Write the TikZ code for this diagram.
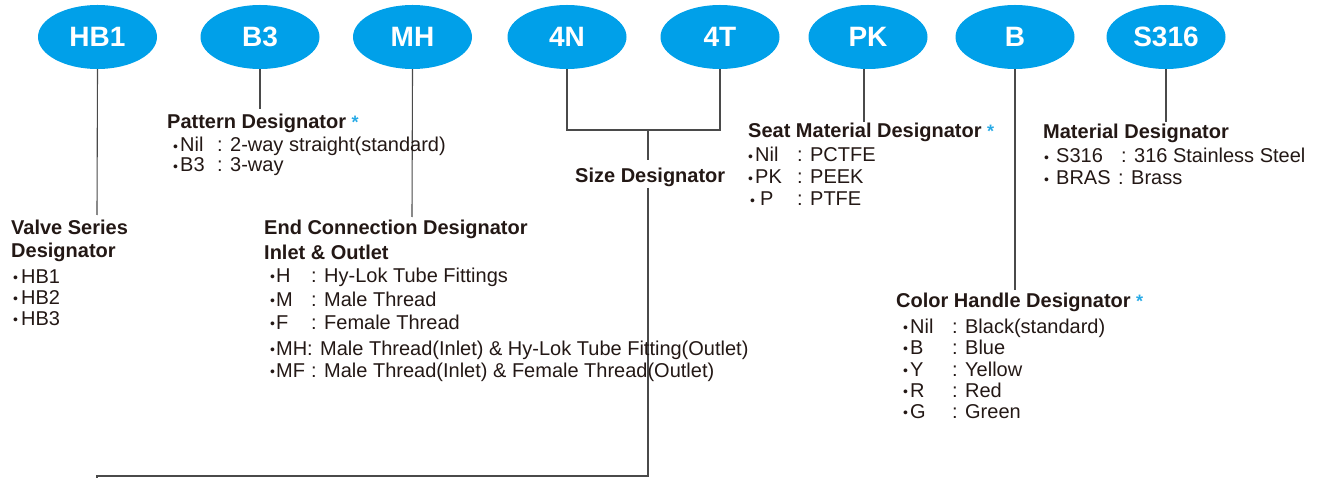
\documentclass[tikz,border=0pt]{standalone}
\usepackage{fontspec}
\setmainfont{Liberation Sans}
\usetikzlibrary{shapes.geometric}
\definecolor{ellblue}{RGB}{0,160,233}
\definecolor{astblue}{RGB}{40,170,230}
\definecolor{txt}{HTML}{231815}
\definecolor{ln}{HTML}{4A4A4A}
\newcommand\blt[1]{\makebox[#1][l]{\raisebox{0.03em}{\scalebox{0.7}{•}}}}
\newcommand\ky[2]{\makebox[#1][l]{#2}}
\newcommand\myast{\textcolor{astblue}{\fontsize{18}{18}\selectfont\bfseries *}}
\begin{document}
\begin{tikzpicture}[x=1pt,y=-1pt,
  oval/.style={ellipse, fill=ellblue, minimum width=119pt, minimum height=64pt, inner sep=0pt, text=white, font=\fontsize{28}{28}\selectfont\bfseries},
  head/.style={anchor=base west, inner sep=0pt, text=txt, font=\fontsize{20}{23}\selectfont\bfseries},
  itm/.style={anchor=base west, inner sep=0pt, text=txt, font=\fontsize{20}{21}\selectfont},
  conn/.style={draw=ln, line width=1.1pt}]
\useasboundingbox (0,0) rectangle (1321,478);

% ovals
\node[oval] (hb1) at (97.5,37) {HB1};
\node[oval] (b3) at (260,37) {B3};
\node[oval] (mh) at (412.5,37) {MH};
\node[oval] (n4) at (567,37) {4N};
\node[oval] (t4) at (720,37) {4T};
\node[oval] (pk) at (868,37) {PK};
\node[oval] (bb) at (1015,37) {B};
\node[oval] (s316) at (1166,37) {S316};

% connector end points
\coordinate (hb1e) at (97,215);
\coordinate (b3e) at (260,109);
\coordinate (mhe) at (412,217);
\coordinate (join) at (648,130);
\coordinate (sizet) at (648,160);
\coordinate (sizeb) at (648,188);
\coordinate (botr) at (648,476);
\coordinate (botl) at (97,476);
\coordinate (bote) at (97,479);
\coordinate (pks) at (864,69);
\coordinate (pke) at (864,122);
\coordinate (bbe) at (1015,290);
\coordinate (s316e) at (1166,122);

\draw[conn] (hb1.south) -- (hb1e);
\draw[conn] (b3.south) -- (b3e);
\draw[conn] (mh.south) -- (mhe);
\draw[conn] (n4.south) |- (join) -| (t4.south);
\draw[conn] (join) -- (sizet);
\draw[conn] (sizeb) -- (botr) -- (botl) -- (bote);
\draw[conn] (pks) -- (pke);
\draw[conn] (bb.south) -- (bbe);
\draw[conn] (s316.south) -- (s316e);

% Valve series
\node[head] (vs1) at (11,235) {Valve Series};
\node[head] (vs2) at (11,258) {Designator};
\node[itm] (vsa) at (13,283) {\blt{8pt}HB1};
\node[itm] (vsb) at (13,304) {\blt{8pt}HB2};
\node[itm] (vsc) at (13,325) {\blt{8pt}HB3};

% Pattern
\node[head] (pd) at (167,129) {Pattern Designator \myast};
\node[itm] (pda) at (173,152) {\blt{7pt}\ky{37pt}{Nil}: 2-way straight(standard)};
\node[itm] (pdb) at (173,172) {\blt{7pt}\ky{37pt}{B3}: 3-way};

% End connection
\node[head] (ec1) at (264,235) {End Connection Designator};
\node[head] (ec2) at (264,259) {Inlet \& Outlet};
\node[itm] (eca) at (270,282) {\blt{6pt}\ky{35pt}{H}: Hy-Lok Tube Fittings};
\node[itm] (ecb) at (270,306) {\blt{6pt}\ky{35pt}{M}: Male Thread};
\node[itm] (ecc) at (270,329) {\blt{6pt}\ky{35pt}{F}: Female Thread};
\node[itm] (ecd) at (270,355) {\blt{6pt}\ky{31pt}{MH}: Male Thread(Inlet) \& Hy-Lok Tube Fitting(Outlet)};
\node[itm] (ece) at (270,377) {\blt{6pt}\ky{35pt}{MF}: Male Thread(Inlet) \& Female Thread(Outlet)};

% Size
\node[head] (sd) at (575,183) {Size Designator};

% Seat material
\node[head] (sm) at (748,138) {Seat Material Designator \myast};
\node[itm] (sma) at (748,162) {\blt{7pt}\ky{42pt}{Nil}: PCTFE};
\node[itm] (smb) at (748,184) {\blt{7pt}\ky{42pt}{PK}: PEEK};
\node[itm] (smc) at (750,206) {\blt{10pt}\ky{37pt}{P}: PTFE};

% Material
\node[head] (md) at (1043,139) {Material Designator};
\node[itm] (mda) at (1044,163) {\blt{12pt}\ky{65pt}{S316}: 316 Stainless Steel};
\node[itm] (mdb) at (1044,185) {\blt{12pt}\ky{62pt}{BRAS}: Brass};

% Color handle
\node[head] (ch) at (896,307) {Color Handle Designator \myast};
\node[itm] (cha) at (903,333) {\blt{7pt}\ky{42pt}{Nil}: Black(standard)};
\node[itm] (chb) at (903,354) {\blt{7pt}\ky{42pt}{B}: Blue};
\node[itm] (chc) at (903,376) {\blt{7pt}\ky{42pt}{Y}: Yellow};
\node[itm] (chd) at (903,397) {\blt{7pt}\ky{42pt}{R}: Red};
\node[itm] (che) at (903,418) {\blt{7pt}\ky{42pt}{G}: Green};
\end{tikzpicture}
\end{document}
